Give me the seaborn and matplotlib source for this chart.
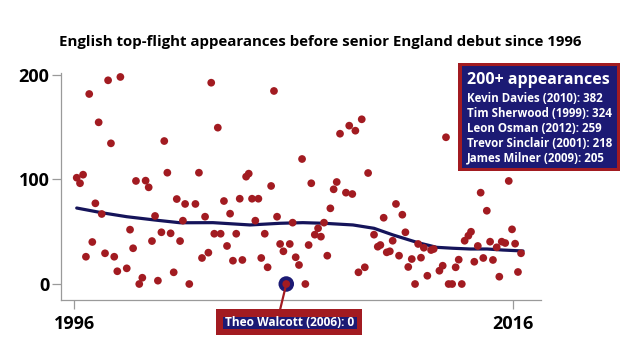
import matplotlib
matplotlib.use("Agg")
import matplotlib.pyplot as plt
import seaborn as sns
import pandas as pd
from matplotlib.patches import Rectangle
from matplotlib.lines import Line2D

# ---------------- data ----------------
debut_year = [
    1996.11, 1996.26, 1996.40, 1996.53, 1996.68, 1996.82, 1996.96, 1997.11, 1997.25, 1997.40,
    1997.54, 1997.67, 1997.82, 1997.96, 1998.10, 1998.39, 1998.54, 1998.68, 1998.81, 1998.96,
    1999.10, 1999.25, 1999.39, 1999.54, 1999.68, 1999.81, 1999.97, 2000.10, 2000.24, 2000.39,
    2000.53, 2000.67, 2000.82, 2000.95, 2001.05, 2001.24, 2001.52, 2001.68, 2001.82, 2001.96,
    2002.11, 2002.24, 2002.38, 2002.54, 2002.67, 2002.82, 2002.96, 2003.10, 2003.23, 2003.38,
    2003.54, 2003.66, 2003.83, 2003.95, 2004.10, 2004.25, 2004.39, 2004.52, 2004.68, 2004.81,
    2004.97, 2005.10, 2005.24, 2005.38, 2005.53, 2005.82, 2005.95, 2006.09, 2006.24,
    2006.38, 2006.53, 2006.68, 2006.80, 2006.96, 2007.11, 2007.24, 2007.38, 2007.53, 2007.67,
    2007.82, 2007.96, 2008.11, 2008.38, 2008.53, 2008.67, 2008.81, 2008.95, 2009.10, 2009.24,
    2009.39, 2009.66, 2009.83, 2009.95, 2010.10, 2010.24, 2010.38, 2010.51, 2010.66, 2010.80,
    2010.95, 2011.09, 2011.22, 2011.38, 2011.53, 2011.67, 2011.80, 2011.93, 2012.09, 2012.26,
    2012.38, 2012.64, 2012.79, 2012.94, 2013.06, 2013.22, 2013.38, 2013.52, 2013.66, 2013.79,
    2013.96, 2014.08, 2014.23, 2014.39, 2014.52, 2014.64, 2014.80, 2014.95, 2015.08, 2015.25,
    2015.37, 2015.48, 2015.64, 2015.80, 2015.95, 2016.09, 2016.22, 2016.36,
]
appearances = [
    101.7, 96.4, 104.6, 26.1, 181.8, 40.2, 77.2, 154.7, 67.0, 29.4,
    194.9, 134.6, 26.1, 12.2, 198.1, 15.0, 52.0, 34.2, 98.6, 0.0,
    6.0, 98.9, 92.5, 41.1, 65.1, 3.2, 49.5, 136.8, 106.5, 48.5,
    11.2, 81.3, 41.1, 60.6, 76.6, 0.0, 76.6, 106.5, 24.9, 64.4,
    30.0, 192.6, 48.1, 149.6, 48.1, 79.4, 36.4, 67.3, 22.3, 48.1,
    81.6, 23.0, 102.7, 105.6, 81.6, 60.6, 81.6, 24.9, 48.1, 16.0,
    93.8, 184.7, 64.4, 38.3, 31.3, 38.3, 58.7, 25.6, 18.2,
    119.6, 0.0, 37.3, 96.4, 47.2, 53.3, 45.3, 58.7, 27.1, 72.4,
    90.6, 97.6, 143.8, 87.4, 151.5, 86.1, 146.7, 11.2, 157.6, 16.0,
    106.2, 47.2, 35.7, 37.3, 63.4, 30.3, 31.3, 41.4, 76.6, 27.1,
    66.3, 49.5, 16.3, 23.9, 0.0, 38.3, 25.2, 34.7, 7.9, 32.5,
    33.5, 12.7, 17.5, 140.4, 0.0, 0.0, 16.0, 23.3, 0.0, 41.4,
    46.2, 50.0, 21.3, 36.4, 87.4, 24.9, 70.1, 40.5, 23.0, 35.1,
    7.0, 40.5, 39.2, 98.6, 52.3, 38.6, 11.5, 29.4,
]
trend_year = [1996.11, 1997.25, 1998.39, 1999.68, 2000.82, 2002.32, 2004.01, 2005.38,
              2006.42, 2007.38, 2008.70, 2009.66, 2010.53, 2011.67, 2012.52, 2013.26,
              2014.04, 2014.81, 2015.54, 2016.45]
trend_value = [72.7, 68.2, 64.4, 61.2, 58.6, 58.7, 56.5, 58.1,
               58.7, 58.1, 56.5, 53.3, 46.9, 39.5, 35.1, 34.2,
               33.5, 33.5, 32.5, 31.6]
highlight_year = [2005.66]
highlight_value = [0]
y_ticks = [0, 100, 200]
x_ticks = [1996, 2016]

title = "English top-flight appearances before senior England debut since 1996"
box_title = "200+ appearances"
box_lines = [
    "Kevin Davies (2010): 382",
    "Tim Sherwood (1999): 324",
    "Leon Osman (2012): 259",
    "Trevor Sinclair (2001): 218",
    "James Milner (2009): 205",
]
highlight_label = "Theo Walcott (2006): 0"

# ---------------- style ----------------
RED = "#a21b21"
NAVY = "#1c1a74"
LINE_NAVY = "#15145a"
SPINE = "#9a9a9a"

sns.set_theme(style="white")
plt.rcParams['font.family'] = ['Open Sans', 'DejaVu Sans']

W, H = 640, 360
def fx(x):
    return x / W
def fy(y):
    return 1 - y / H

fig = plt.figure(figsize=(6.4, 3.6), dpi=100)
fig.patch.set_facecolor("white")
ax = fig.add_axes([fx(60.7), fy(300), fx(541) - fx(60.7), fy(73.3) - fy(300)])

df = pd.DataFrame({"year": debut_year, "apps": appearances})
trend = pd.DataFrame({"year": trend_year, "value": trend_value})
hl = pd.DataFrame({"year": highlight_year, "apps": highlight_value})

sns.lineplot(data=trend, x="year", y="value", ax=ax, color=LINE_NAVY, lw=2.3,
             zorder=2, sort=True)
sns.scatterplot(data=df, x="year", y="apps", ax=ax, color=RED, s=31,
                edgecolor="none", linewidth=0, zorder=3, clip_on=False)
sns.scatterplot(data=hl, x="year", y="apps", ax=ax, color=NAVY, s=125,
                edgecolor="none", linewidth=0, zorder=4, clip_on=False)
sns.scatterplot(data=hl, x="year", y="apps", ax=ax, color=RED, s=31,
                edgecolor="none", linewidth=0, zorder=5, clip_on=False)

ax.set_xlim(1995.38, 2017.27)
ax.set_ylim(-15.3, 201.6)
ax.set_xticks(x_ticks)
ax.set_yticks(y_ticks)
ax.set_xticklabels([str(t) for t in x_ticks])
ax.set_yticklabels([str(t) for t in y_ticks])
ax.set_xlabel("")
ax.set_ylabel("")
for s in ["top", "right"]:
    ax.spines[s].set_visible(False)
for s in ["left", "bottom"]:
    ax.spines[s].set_color(SPINE)
    ax.spines[s].set_linewidth(0.9)
ax.tick_params(axis="both", which="both", length=6.5, width=0.9, color=SPINE,
               labelsize=13, labelcolor="black")
ax.tick_params(axis="y", pad=1.5, left=True)
ax.tick_params(axis="x", pad=4.0, bottom=True)
for lab in ax.get_xticklabels() + ax.get_yticklabels():
    lab.set_fontweight("bold")
ax.grid(False)
ax.set_facecolor("white")

# title
fig.text(fx(320), fy(42), title, ha="center", va="center", fontsize=10.8,
         fontweight="bold", color="black")

# 200+ box
fig.add_artist(Rectangle((fx(458.3), fy(171)), fx(620) - fx(458.3), fy(62.7) - fy(171),
                         transform=fig.transFigure, facecolor=RED, edgecolor="none", zorder=10))
fig.add_artist(Rectangle((fx(461.7), fy(168.3)), fx(616.7) - fx(461.7), fy(66) - fy(168.3),
                         transform=fig.transFigure, facecolor=NAVY, edgecolor="none", zorder=11))
fig.text(fx(538), fy(79.5), box_title, ha="center", va="center", fontsize=11.5,
         fontweight="bold", color="white", zorder=12)
for i, line in enumerate(box_lines):
    fig.text(fx(467), fy(99 + i * 14.8), line, ha="left", va="center", fontsize=8.3,
             fontweight="bold", color="white", zorder=12)

# highlight connector + label box
fig.add_artist(Line2D([fx(286.3), fx(280)], [fy(284), fy(310)], transform=fig.transFigure,
                      color=RED, lw=1.6, zorder=3.5))
fig.add_artist(Rectangle((fx(216), fy(335)), fx(362) - fx(216), fy(309.3) - fy(335),
                         transform=fig.transFigure, facecolor=RED, edgecolor="none", zorder=10))
fig.add_artist(Rectangle((fx(222.7), fy(329.3)), fx(356.7) - fx(222.7), fy(316.7) - fy(329.3),
                         transform=fig.transFigure, facecolor=NAVY, edgecolor="none", zorder=11))
fig.text(fx(289.7), fy(323), highlight_label, ha="center", va="center", fontsize=8.6,
         fontweight="bold", color="white", zorder=12)

fig.savefig("out.png", dpi=100, facecolor="white")
